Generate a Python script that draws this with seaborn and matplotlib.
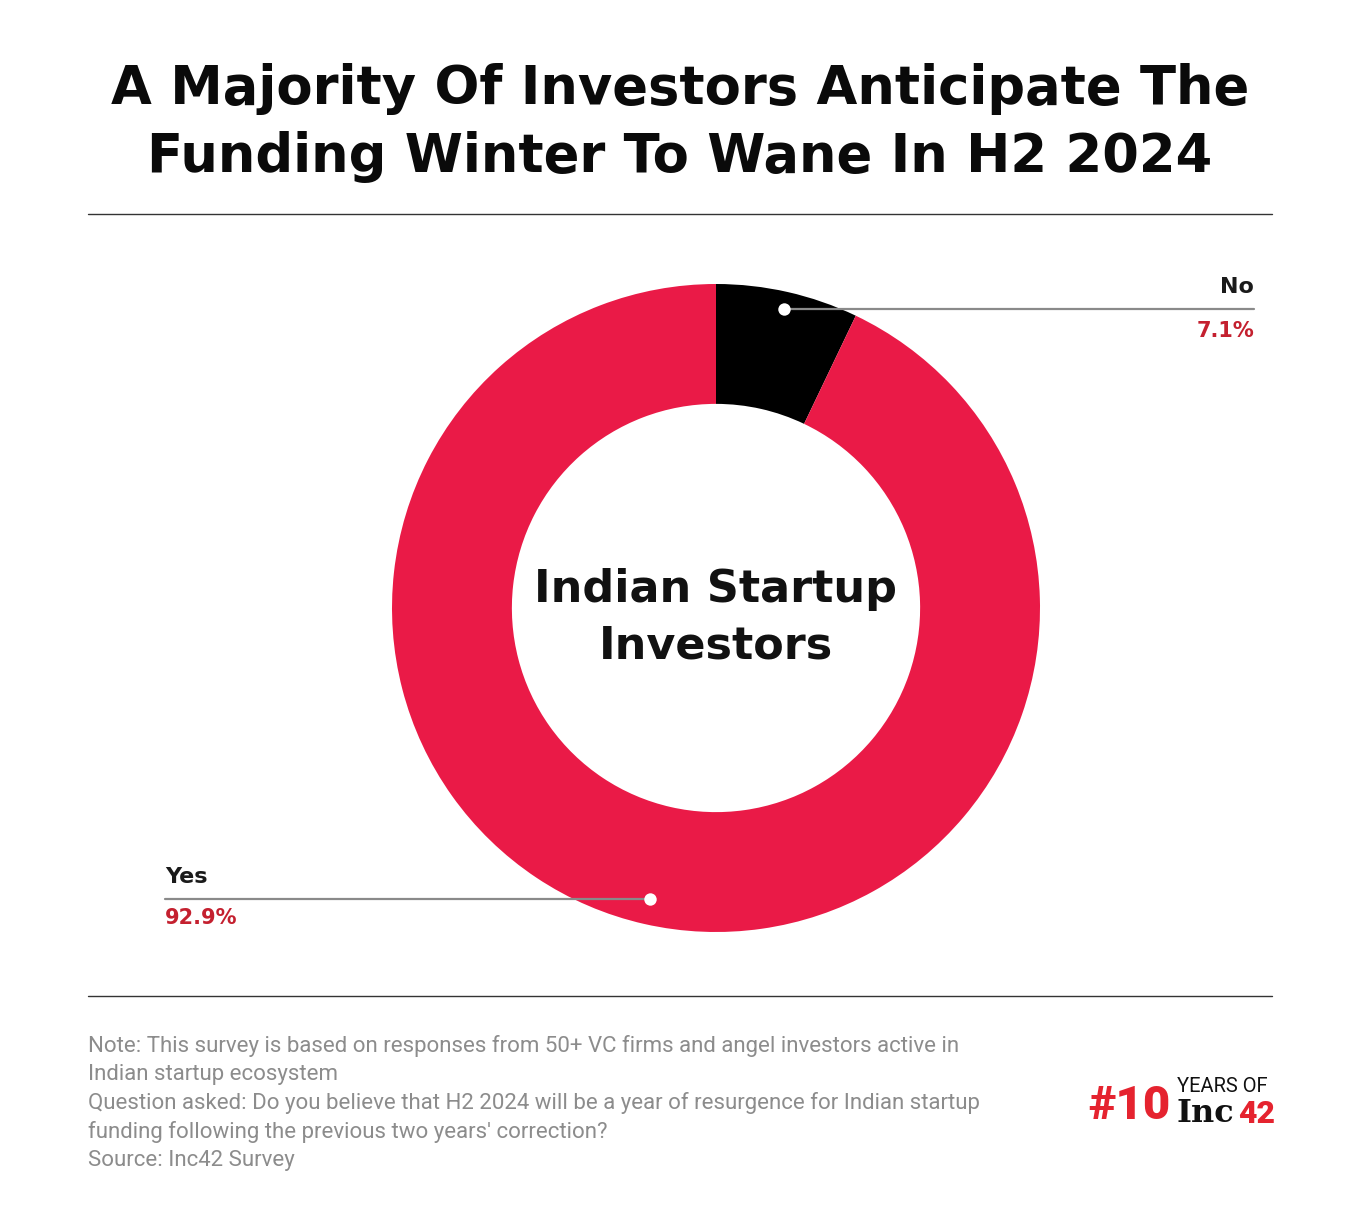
import numpy as np
import matplotlib
matplotlib.use("Agg")
import matplotlib.pyplot as plt
import seaborn as sns

# ---- data ----
labels = ["No", "Yes"]
values = [7.1, 92.9]
pct_labels = ["7.1%", "92.9%"]
colors = ["#000000", "#EA1A47"]

title = "A Majority Of Investors Anticipate The\nFunding Winter To Wane In H2 2024"
center_text = "Indian Startup\nInvestors"
notes = [
    "Note: This survey is based on responses from 50+ VC firms and angel investors active in",
    "Indian startup ecosystem",
    "Question asked: Do you believe that H2 2024 will be a year of resurgence for Indian startup",
    "funding following the previous two years' correction?",
    "Source: Inc42 Survey",
]

sns.set_theme(style="white")
plt.rcParams["font.family"] = ["DejaVu Sans"]

W, H = 1360, 1216
fig = plt.figure(figsize=(W / 100, H / 100), dpi=100)
fig.patch.set_facecolor("white")

# donut geometry (pixels)
cx, cy, R = 716, 608, 324
pie_ax = fig.add_axes([(cx - R) / W, (H - cy - R) / H, 2 * R / W, 2 * R / H])
wedges, _ = pie_ax.pie(values, colors=colors, startangle=90, counterclock=False,
                       radius=1.0, wedgeprops=dict(width=0.37, linewidth=0))
pie_ax.set_xlim(-1, 1)
pie_ax.set_ylim(-1, 1)
pie_ax.set_aspect("equal")
pie_ax.axis("off")

pie_ax.text(0, -0.03, center_text, ha="center", va="center", fontsize=32,
            fontweight="bold", color="#111111", linespacing=1.42)

# overlay axes in pixel coordinates (drawn above the donut)
ov = fig.add_axes([0, 0, 1, 1])
ov.set_xlim(0, W)
ov.set_ylim(H, 0)
ov.axis("off")
ov.set_zorder(5)
ov.patch.set_visible(False)

# title
ov.text(680, 123, title, ha="center", va="center", fontsize=38, fontweight="bold",
        color="#0a0a0a", linespacing=1.38)

# rules
ov.plot([88, 1272], [214, 214], color="#333333", lw=1.0)
ov.plot([88, 1272], [996, 996], color="#333333", lw=1.0)

# leader lines + labels
cum = np.cumsum([0] + values)
dot_r = [0.945, 0.92]
for i, (lab, v) in enumerate(zip(labels, values)):
    mid = 90 - 360 * (cum[i] + v / 2) / 100.0
    x = cx + dot_r[i] * R * np.cos(np.radians(mid))
    y = cy - dot_r[i] * R * np.sin(np.radians(mid))
    if i == 0:
        ov.plot([x, 1254], [y, y], color="#8a8a8a", lw=1.6, zorder=3)
        ov.scatter([x], [y], s=80, color="white", zorder=4, linewidths=0)
        ov.text(1254, y - 12, lab, ha="right", va="bottom", fontsize=16,
                fontweight="bold", color="#1a1a1a")
        ov.text(1254, y + 12, pct_labels[i], ha="right", va="top", fontsize=15,
                fontweight="bold", color="#C4202F")
    else:
        ov.plot([165, x], [y, y], color="#8a8a8a", lw=1.6, zorder=3)
        ov.scatter([x], [y], s=80, color="white", zorder=4, linewidths=0)
        ov.text(165, y - 12, lab, ha="left", va="bottom", fontsize=16,
                fontweight="bold", color="#1a1a1a")
        ov.text(165, y + 9, pct_labels[i], ha="left", va="top", fontsize=15,
                fontweight="bold", color="#C4202F")

# footnote
for k, line in enumerate(notes):
    ov.text(88, 1046 + k * 28.7, line, ha="left", va="center", fontsize=16,
            color="#8c8c8c", family=["Roboto", "DejaVu Sans"])

# logo
ov.text(1088, 1106, "#10", ha="left", va="center", fontsize=34, fontweight="black",
        color="#E5232F", family=["Roboto", "DejaVu Sans"])
ov.text(1177, 1087, "YEARS OF", ha="left", va="center", fontsize=14.5,
        color="#111111", family=["Roboto", "DejaVu Sans"])
ov.text(1177, 1114, "Inc", ha="left", va="center", fontsize=23, fontweight="bold",
        color="#111111", family=["DejaVu Serif"])
ov.text(1238, 1114, "42", ha="left", va="center", fontsize=23, fontweight="black",
        color="#E5232F", family=["Roboto", "DejaVu Sans"])

fig.savefig("out.png", dpi=100, facecolor="white")
